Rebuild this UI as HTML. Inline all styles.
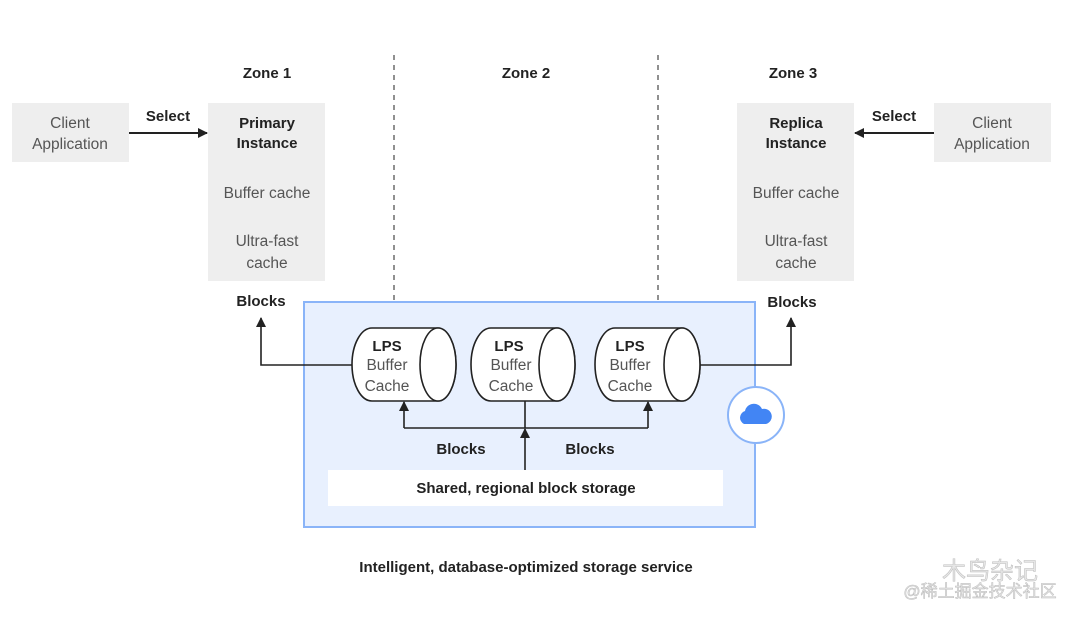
<!DOCTYPE html>
<html><head><meta charset="utf-8"><style>
html,body{margin:0;padding:0;background:#fff;}
svg{display:block;font-family:"Liberation Sans","Noto Sans CJK SC",sans-serif;}
.b{font-weight:bold;fill:#222;font-size:15px;}
.n{fill:#555;font-size:15.5px;}
</style></head><body>
<svg width="1080" height="619" viewBox="0 0 1080 619">
<defs><marker id="a" markerWidth="10" markerHeight="10" refX="9" refY="5" orient="auto" markerUnits="userSpaceOnUse"><path d="M0,0 L10,5 L0,10 z" fill="#222"/></marker></defs>
<rect width="1080" height="619" fill="#fff"/>
<line x1="394" y1="55" x2="394" y2="302" stroke="#555" stroke-width="1.3" stroke-dasharray="5,5"/>
<line x1="658" y1="55" x2="658" y2="302" stroke="#555" stroke-width="1.3" stroke-dasharray="5,5"/>
<text class="b" x="267" y="78" text-anchor="middle">Zone 1</text>
<text class="b" x="526" y="78" text-anchor="middle">Zone 2</text>
<text class="b" x="793" y="78" text-anchor="middle">Zone 3</text>
<rect x="12" y="103" width="117" height="59" fill="#eeeeee"/>
<text class="n" x="70" y="128" text-anchor="middle">Client</text>
<text class="n" x="70" y="149" text-anchor="middle">Application</text>
<rect x="934" y="103" width="117" height="59" fill="#eeeeee"/>
<text class="n" x="992" y="128" text-anchor="middle">Client</text>
<text class="n" x="992" y="149" text-anchor="middle">Application</text>
<rect x="208" y="103" width="117" height="178" fill="#eeeeee"/>
<text class="b" x="267" y="128" text-anchor="middle" font-size="15.5">Primary</text>
<text class="b" x="267" y="148" text-anchor="middle" font-size="15.5">Instance</text>
<text class="n" x="267" y="198" text-anchor="middle">Buffer cache</text>
<text class="n" x="267" y="246" text-anchor="middle">Ultra-fast</text>
<text class="n" x="267" y="268" text-anchor="middle">cache</text>
<rect x="737" y="103" width="117" height="178" fill="#eeeeee"/>
<text class="b" x="796" y="128" text-anchor="middle" font-size="15.5">Replica</text>
<text class="b" x="796" y="148" text-anchor="middle" font-size="15.5">Instance</text>
<text class="n" x="796" y="198" text-anchor="middle">Buffer cache</text>
<text class="n" x="796" y="246" text-anchor="middle">Ultra-fast</text>
<text class="n" x="796" y="268" text-anchor="middle">cache</text>
<line x1="129" y1="133" x2="207" y2="133" stroke="#222" stroke-width="2" marker-end="url(#a)"/>
<text class="b" x="168" y="121" text-anchor="middle">Select</text>
<line x1="934" y1="133" x2="855" y2="133" stroke="#222" stroke-width="2" marker-end="url(#a)"/>
<text class="b" x="894" y="121" text-anchor="middle">Select</text>
<text class="b" x="261" y="306" text-anchor="middle">Blocks</text>
<text class="b" x="792" y="307" text-anchor="middle">Blocks</text>
<rect x="304" y="302" width="451" height="225" fill="#e8f0fe" stroke="#8ab4f8" stroke-width="2"/>
<polyline points="352,365 261,365 261,318" fill="none" stroke="#222" stroke-width="1.6" marker-end="url(#a)"/>
<polyline points="700,365 791,365 791,318" fill="none" stroke="#222" stroke-width="1.6" marker-end="url(#a)"/>
<g stroke="#222" stroke-width="1.6" fill="#fff">
<path d="M372,328 L438,328 A18,36.5 0 0 1 438,401 L372,401 A20,36.5 0 0 1 372,328 z"/>
<ellipse cx="438" cy="364.5" rx="18" ry="36.5"/>
<path d="M491,328 L557,328 A18,36.5 0 0 1 557,401 L491,401 A20,36.5 0 0 1 491,328 z"/>
<ellipse cx="557" cy="364.5" rx="18" ry="36.5"/>
<path d="M615,328 L682,328 A18,36.5 0 0 1 682,401 L615,401 A20,36.5 0 0 1 615,328 z"/>
<ellipse cx="682" cy="364.5" rx="18" ry="36.5"/>
</g>
<g text-anchor="middle">
<text class="b" x="387" y="351" font-size="15.5">LPS</text><text class="n" x="387" y="370">Buffer</text><text class="n" x="387" y="391">Cache</text>
<text class="b" x="509" y="351" font-size="15.5">LPS</text><text class="n" x="511" y="370">Buffer</text><text class="n" x="511" y="391">Cache</text>
<text class="b" x="630" y="351" font-size="15.5">LPS</text><text class="n" x="630" y="370">Buffer</text><text class="n" x="630" y="391">Cache</text>
</g>
<polyline points="404,428 648,428" fill="none" stroke="#222" stroke-width="1.6"/>
<line x1="404" y1="428" x2="404" y2="402" stroke="#222" stroke-width="1.6" marker-end="url(#a)"/>
<line x1="648" y1="428" x2="648" y2="402" stroke="#222" stroke-width="1.6" marker-end="url(#a)"/>
<line x1="525" y1="401" x2="525" y2="428" stroke="#222" stroke-width="1.6"/>
<line x1="525" y1="470" x2="525" y2="429" stroke="#222" stroke-width="1.6" marker-end="url(#a)"/>
<text class="b" x="461" y="454" text-anchor="middle">Blocks</text>
<text class="b" x="590" y="454" text-anchor="middle">Blocks</text>
<rect x="328" y="470" width="395" height="36" fill="#fff"/>
<text class="b" x="526" y="493" text-anchor="middle">Shared, regional block storage</text>
<circle cx="756" cy="415" r="28" fill="#fff" stroke="#8ab4f8" stroke-width="2"/>
<path d="M744,424 a7,7 0 0 1 1,-13 a9,9 0 0 1 17,-2 a7,7 0 0 1 4,15 z" fill="#4285f4"/>
<text class="b" x="526" y="572" text-anchor="middle">Intelligent, database-optimized storage service</text>
<text x="990" y="579" text-anchor="middle" font-size="24" fill="#e6e6e6" stroke="#bbb" stroke-width="0.5">木鸟杂记</text>
<text x="980" y="597" text-anchor="middle" font-size="17" fill="#e6e6e6" stroke="#bbb" stroke-width="0.5">@稀土掘金技术社区</text>
</svg>
</body></html>
